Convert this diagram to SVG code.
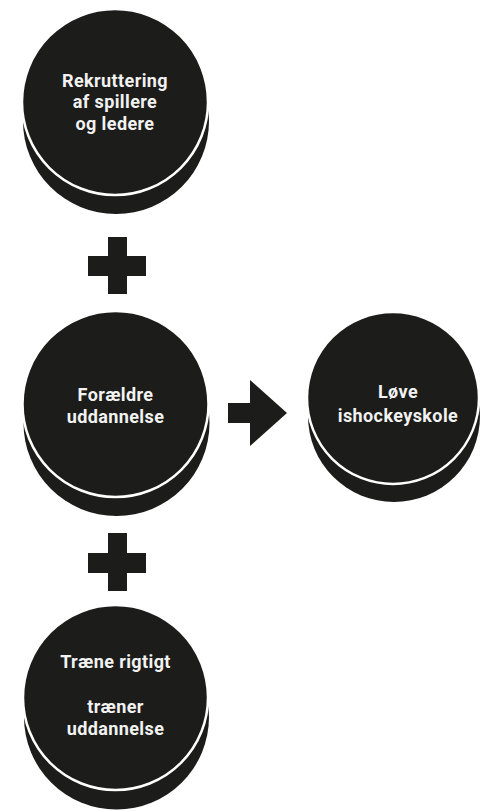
<svg xmlns="http://www.w3.org/2000/svg" width="483" height="811" viewBox="0 0 483 811">
<style>
.back{fill:#1c1c1a}
.front{fill:#1c1c1a;stroke:#ffffff;stroke-width:2.5}
.lbl{font-family:"Roboto","Liberation Sans",sans-serif;font-weight:700;font-size:18px;letter-spacing:0.4px;fill:#f2f2f2;text-anchor:middle}
.op{fill:#1c1c1a}
</style>
<rect width="483" height="811" fill="#ffffff"/>
<g id="connectors">
  <path class="op" d="M108,237 H127 V256 H146 V276 H127 V294 H108 V276 H88 V256 H108 Z"/>
  <path class="op" d="M108,533 H127 V553 H146 V573 H127 V591 H108 V573 H88 V553 H108 Z"/>
  <path class="op" d="M228,403 H250 V380 L287,413 L250,446 V423 H228 Z"/>
</g>
<g id="node-rekruttering">
  <circle class="back" cx="116" cy="121" r="93"/>
  <circle class="front" cx="115" cy="102" r="93"/>
  <text class="lbl" x="115" y="87">Rekruttering</text>
  <text class="lbl" x="115" y="108">af spillere</text>
  <text class="lbl" x="115" y="130">og ledere</text>
</g>
<g id="node-foraeldre">
  <circle class="back" cx="116.5" cy="423" r="93"/>
  <circle class="front" cx="115.5" cy="404" r="93"/>
  <text class="lbl" x="115.5" y="401">Forældre</text>
  <text class="lbl" x="115.5" y="423">uddannelse</text>
</g>
<g id="node-loeve">
  <circle class="back" cx="394" cy="416" r="86"/>
  <circle class="front" cx="393" cy="398" r="86"/>
  <text class="lbl" x="398" y="398">Løve</text>
  <text class="lbl" x="398" y="422">ishockeyskole</text>
</g>
<g id="node-traene">
  <circle class="back" cx="116.5" cy="717" r="92.5"/>
  <circle class="front" cx="115.5" cy="697.5" r="92.5"/>
  <text class="lbl" x="115.5" y="668">Træne rigtigt</text>
  <text class="lbl" x="115.5" y="713">træner</text>
  <text class="lbl" x="115.5" y="735">uddannelse</text>
</g>
</svg>
